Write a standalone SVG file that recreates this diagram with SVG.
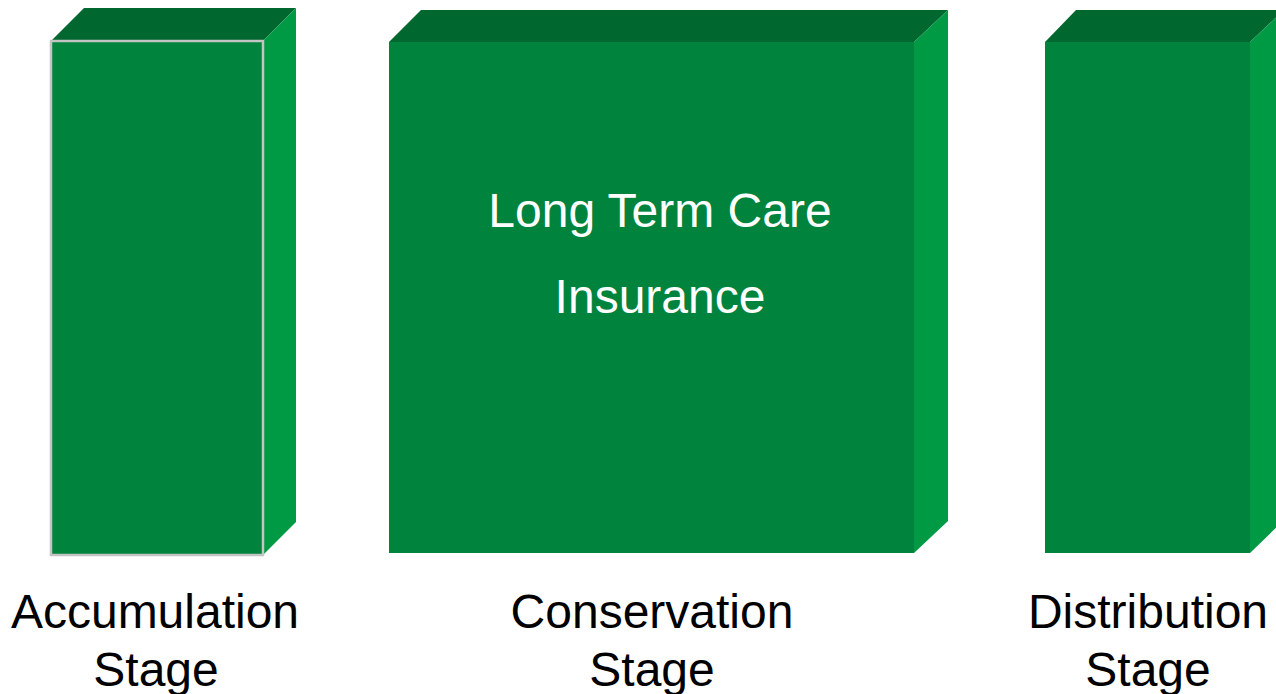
<svg xmlns="http://www.w3.org/2000/svg" width="1276" height="694" viewBox="0 0 1276 694">
  <style>
    .front { fill: #00843d; }
    .top { fill: #00672f; }
    .side { fill: #009944; }
    .inner { font-family: "Liberation Sans", Arial, sans-serif; font-size: 48px; fill: #ffffff; text-anchor: middle; }
    .label { font-family: "Liberation Sans", Arial, sans-serif; font-size: 48px; fill: #000000; text-anchor: middle; }
  </style>
  <rect width="1276" height="694" fill="#ffffff"/>

  <!-- Accumulation stage block -->
  <g id="accumulation">
    <polygon class="top" points="51,41 84,8 296,8 263,41"/>
    <polygon class="side" points="263,41 296,8 296,522 263,555"/>
    <rect class="front" x="51" y="41" width="212" height="514" stroke="#c4c4c4" stroke-width="2.5"/>
    <text class="label" x="155" y="628">Accumulation</text>
    <text class="label" x="156" y="686">Stage</text>
  </g>

  <!-- Conservation stage block -->
  <g id="conservation">
    <polygon class="top" points="389,42 421,10 948,10 914,42"/>
    <polygon class="side" points="914,42 948,10 948,521 914,553"/>
    <rect class="front" x="389" y="42" width="525" height="511"/>
    <text class="inner" x="660" y="227">Long Term Care</text>
    <text class="inner" x="660" y="313">Insurance</text>
    <text class="label" x="652" y="628">Conservation</text>
    <text class="label" x="652" y="686">Stage</text>
  </g>

  <!-- Distribution stage block -->
  <g id="distribution">
    <polygon class="top" points="1045,42 1076,10 1284,10 1250,42"/>
    <polygon class="side" points="1250,42 1284,10 1284,520 1250,553"/>
    <rect class="front" x="1045" y="42" width="205" height="511"/>
    <text class="label" x="1148" y="628">Distribution</text>
    <text class="label" x="1148" y="686">Stage</text>
  </g>

  <g id="connectors"/>
</svg>
